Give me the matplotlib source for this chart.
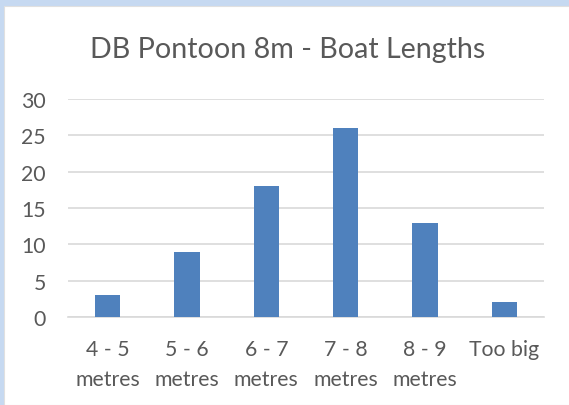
import matplotlib.pyplot as plt
from matplotlib.patches import Rectangle

# Boat length counts at the DB pontoon
categories = ['4 - 5\nmetres', '5 - 6\nmetres', '6 - 7\nmetres', '7 - 8\nmetres', '8 - 9\nmetres', 'Too big']
counts = [3, 9, 18, 26, 13, 2]
y_ticks = [0, 5, 10, 15, 20, 25, 30]

BAR = '#4F81BD'
TEXT = '#595959'
GRID = '#D9D9D9'

plt.rcParams['font.family'] = ['Lato', 'DejaVu Sans']

fig = plt.figure(figsize=(5.69, 4.06), dpi=100)
fig.patch.set_facecolor('#C6D9F1')

# white chart area inside the blue frame
W, H = 569, 406
fig.patches.append(Rectangle((4 / W, 0), 1, (H - 7) / H, transform=fig.transFigure,
                             facecolor='white', edgecolor='#E0E0E0', linewidth=0.8, zorder=-10))

ax = fig.add_axes([68 / W, 88 / H, (544 - 68) / W, (318 - 100) / H])
ax.set_facecolor('none')

x = range(len(categories))
ax.bar(x, counts, width=0.32, color=BAR, zorder=3)

ax.set_xlim(-0.5, len(categories) - 0.5)
ax.set_ylim(0, 30)
ax.set_yticks(y_ticks)
ax.set_xticks(list(x))
ax.set_xticklabels(categories, linespacing=1.6)

ax.grid(axis='y', color=GRID, linewidth=1.2, zorder=0)
for side in ['top', 'right', 'left']:
    ax.spines[side].set_visible(False)
ax.spines['bottom'].set_color(GRID)
ax.spines['bottom'].set_linewidth(1.2)

ax.tick_params(axis='both', length=0, labelsize=15.3, colors=TEXT)
ax.tick_params(axis='y', pad=16)
ax.tick_params(axis='x', pad=16)

fig.text(288 / W, 1 - 50 / H, 'DB Pontoon 8m - Boat Lengths', ha='center', va='center',
         fontsize=20.6, color=TEXT)

fig.savefig('out.png', dpi=100, facecolor=fig.get_facecolor())
